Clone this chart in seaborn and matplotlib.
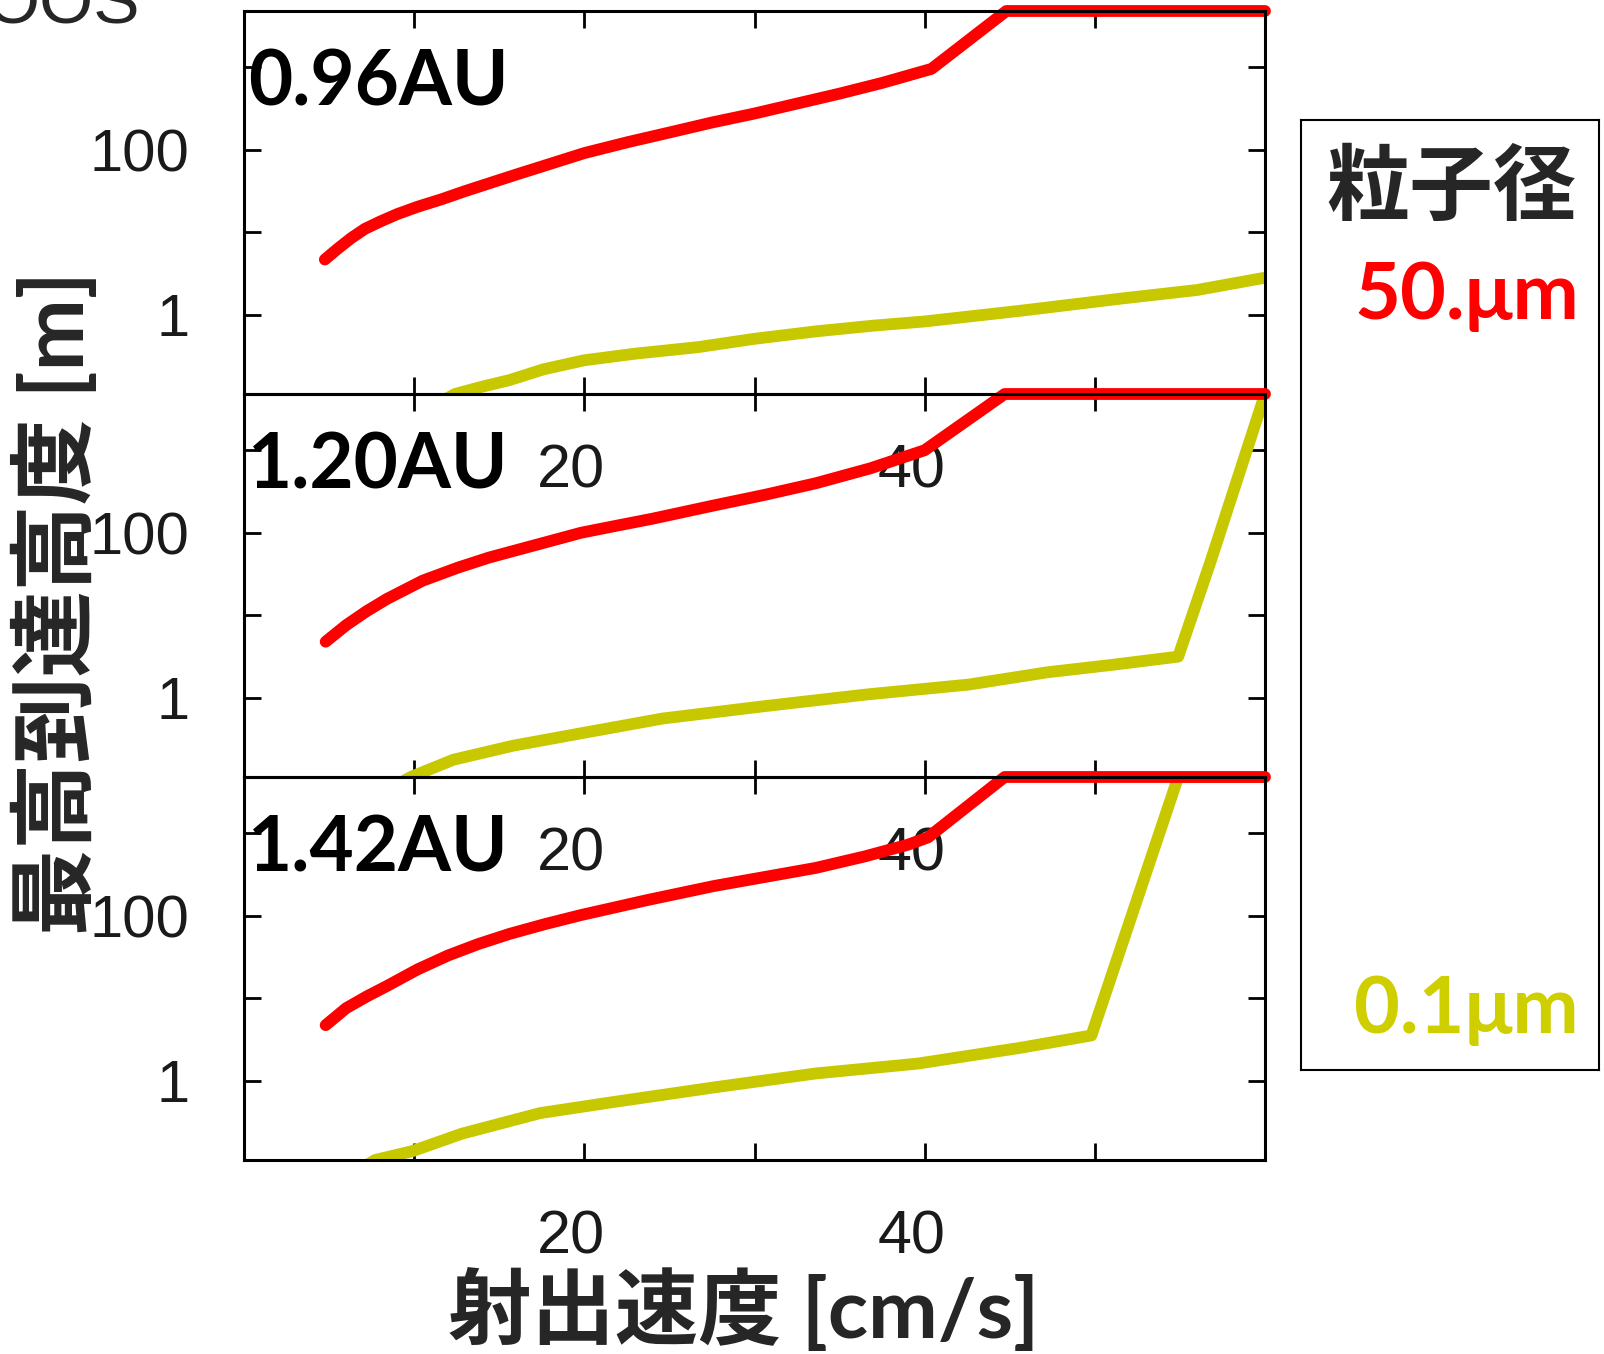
import matplotlib
matplotlib.use("Agg")
import matplotlib.pyplot as plt
import matplotlib.transforms as mtransforms
import seaborn as sns

sns.set_theme(style="ticks")
plt.rcParams["font.family"] = ["Liberation Sans", "Noto Sans CJK JP", "DejaVu Sans"]

# ── data ──────────────────────────────────────────────────────────────────────

SPEED_TICKS = [10, 20, 30, 40, 50]
SPEED_LABELS = ["", "20", "", "40", ""]
HEIGHT_TICKS = [1, 10, 100, 1000]
HEIGHT_LABELS = ["1", "", "100", ""]
PANEL_LABELS = ["0.96AU", "1.20AU", "1.42AU"]

# 0.96 AU
speed_096_50um = [4.75, 5.5, 6.3, 7.1, 8.0, 9.0, 10.2, 11.6, 13.0, 14.5, 16.0, 18.0, 20.0,
                  22.5, 25.0, 27.5, 30.0, 32.5, 35.0, 37.5, 40.4, 44.8, 60.0]
height_096_50um = [4.68, 6.31, 8.51, 11.0, 13.5, 16.6, 20.4, 25.1, 31.6, 39.8, 50.1, 67.6, 91.2,
                   123, 162, 214, 275, 363, 479, 646, 955, 4800, 4800]
speed_096_01um = [11.6, 12.4, 14.0, 15.6, 17.6, 20.0, 23.0, 26.7, 30.0, 33.6, 37.0, 40.0, 45.6, 51.6, 56.0, 60.0]
height_096_01um = [0.089, 0.11, 0.135, 0.162, 0.219, 0.282, 0.339, 0.407, 0.513, 0.631, 0.741, 0.832, 1.12, 1.58, 2.0, 2.82]

# 1.20 AU
speed_120_50um = [4.8, 6.0, 7.2, 8.4, 10.5, 12.6, 14.4, 16.2, 18.0, 19.8, 22.0, 24.0, 27.6,
                  30.6, 33.6, 36.8, 40.0, 44.7, 60.0]
height_120_50um = [4.79, 7.59, 11.2, 15.8, 26.3, 38.0, 50.1, 63.1, 79.4, 100, 123, 148, 214,
                   288, 398, 603, 1000, 4800, 4800]
speed_120_01um = [9.0, 9.8, 12.3, 15.8, 19.8, 24.6, 30.6, 36.6, 42.6, 47.2, 51.0, 54.9, 56.8, 60.0]
height_120_01um = [0.089, 0.11, 0.178, 0.263, 0.372, 0.562, 0.794, 1.10, 1.45, 2.04, 2.51, 3.16, 44.7, 4800]

# 1.42 AU
speed_142_50um = [4.8, 6.0, 7.2, 8.4, 10.2, 12.0, 13.8, 15.6, 17.7, 19.8, 23.7, 27.6, 30.6,
                  33.6, 36.5, 39.0, 40.2, 44.7, 60.0]
height_142_50um = [4.73, 7.59, 10.5, 14.1, 22.4, 33.1, 45.7, 60.3, 79.4, 102, 155, 229, 295,
                   380, 525, 724, 891, 4800, 4800]
speed_142_01um = [7.0, 7.7, 9.9, 12.8, 17.4, 21.6, 27.6, 33.6, 39.6, 45.6, 49.8, 54.9, 60.0]
height_142_01um = [0.089, 0.11, 0.141, 0.229, 0.407, 0.550, 0.832, 1.23, 1.62, 2.51, 3.55, 4800, 4800]

panels = [
    (speed_096_50um, height_096_50um, speed_096_01um, height_096_01um),
    (speed_120_50um, height_120_50um, speed_120_01um, height_120_01um),
    (speed_142_50um, height_142_50um, speed_142_01um, height_142_01um),
]

RED = "#ff0000"
YELLOW = "#c8c800"
YELLOW_TXT = "#cfcf00"

# ── layout (pixels of a 1604x1354 canvas) ─────────────────────────────────────

W, H = 1604, 1354
fig = plt.figure(figsize=(W / 100, H / 100), dpi=100)
fig.patch.set_facecolor("white")

AX_LEFT, AX_WIDTH, AX_HEIGHT = 244, 1021, 383
AX_TOPS = [11, 394, 777]

latin_bold = ["Lato", "Noto Sans", "DejaVu Sans"]
mixed_bold = ["Lato", "Noto Sans CJK JP", "DejaVu Sans"]


def fxy(px, py):
    return px / W, 1 - py / H


for top, label, (xr, yr, xy, yy) in zip(AX_TOPS, PANEL_LABELS, panels):
    ax = fig.add_axes([AX_LEFT / W, 1 - (top + AX_HEIGHT) / H, AX_WIDTH / W, AX_HEIGHT / H])
    ax.set_facecolor("none")

    sns.lineplot(x=xy, y=yy, ax=ax, color=YELLOW, linewidth=8.5, clip_on=True)
    sns.lineplot(x=xr, y=yr, ax=ax, color=RED, linewidth=8.5, clip_on=False)

    ax.set_yscale("log")
    ax.set_xlim(0, 60)
    ax.set_ylim(0.11, 4800)
    ax.set_xticks(SPEED_TICKS)
    ax.set_xticklabels([])
    ax.set_yticks(HEIGHT_TICKS)
    ax.set_yticklabels(HEIGHT_LABELS)
    ax.minorticks_off()
    ax.set_xlabel("")
    ax.set_ylabel("")
    ax.tick_params(direction="in", top=True, right=True, length=12, width=2,
                   color="black", labelsize=43, labelcolor="#1a1a1a", pad=39)
    for sp in ax.spines.values():
        sp.set_linewidth(2.2)
        sp.set_color("black")

    # x tick labels sit a bit left of their ticks, as in the original gnuplot output
    tick_tr = mtransforms.offset_copy(ax.get_xaxis_transform(), fig=fig, x=-13, y=-94, units="dots")
    for v, lab in zip(SPEED_TICKS, SPEED_LABELS):
        if lab:
            ax.text(v, 0, lab, transform=tick_tr, ha="center", va="baseline",
                    fontsize=44, color="#1a1a1a", clip_on=False)

    lab_tr = mtransforms.offset_copy(ax.transAxes, fig=fig, x=4, y=-95, units="dots")
    ax.text(0, 1, label, transform=lab_tr, ha="left", va="baseline",
            fontsize=55, fontweight="bold", family=latin_bold, color="black")

# ── legend box ────────────────────────────────────────────────────────────────

lax = fig.add_axes([1301 / W, 1 - 1070 / H, 298 / W, 950 / H])
lax.set_xticks([])
lax.set_yticks([])
lax.set_facecolor("white")
for sp in lax.spines.values():
    sp.set_linewidth(1.5)
    sp.set_color("black")

fig.text(*fxy(1451, 189), "粒子径", ha="center", va="center", fontsize=60,
         fontweight="bold", family=["Noto Sans CJK JP"])
fig.text(*fxy(1579, 319), "50.μm", ha="right", va="baseline", fontsize=57,
         fontweight="bold", family=latin_bold, color=RED)
fig.text(*fxy(1579, 1033), "0.1μm", ha="right", va="baseline", fontsize=57,
         fontweight="bold", family=latin_bold, color=YELLOW_TXT)

# ── axis titles ───────────────────────────────────────────────────────────────

fig.text(*fxy(56, 603), "最高到達高度 [m]", rotation=90, ha="center", va="center",
         fontsize=62, fontweight="bold", family=mixed_bold)
fig.text(*fxy(744, 1310), "射出速度 [cm/s]", ha="center", va="center",
         fontsize=60, fontweight="bold", family=mixed_bold)

# cut-off heading remnant at the very top (it is clipped in the reference too)
fig.text(-14 / W, 1 - 24 / H, "OOS", ha="left", va="baseline", fontsize=50)

fig.savefig("out.png", dpi=100)
